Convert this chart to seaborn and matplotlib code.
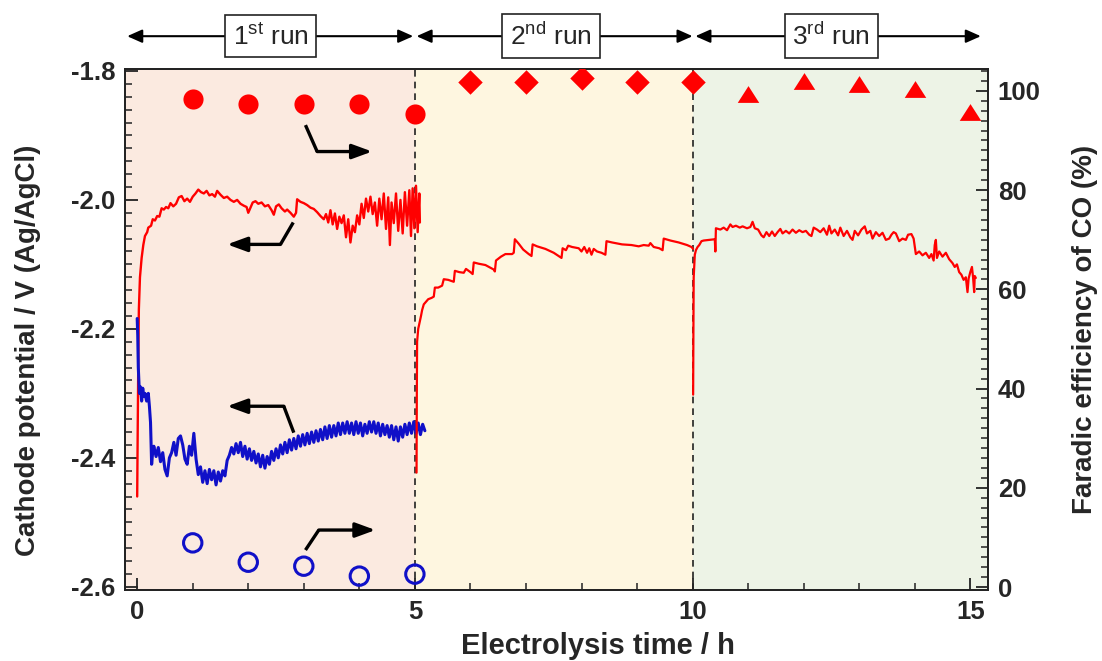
import numpy as np
import pandas as pd
import seaborn as sns
import matplotlib.pyplot as plt
from matplotlib.ticker import MultipleLocator, FormatStrFormatter

# --- data ---
# cathode potential traces (time in h, potential in V vs Ag/AgCl)
run1_red_t = [0.00, 0.01, 0.02, 0.03, 0.05, 0.08, 0.11, 0.14, 0.18, 0.20, 0.25, 0.28, 0.32, 0.36, 0.40,
              0.44, 0.48, 0.52, 0.56, 0.60, 0.65, 0.70, 0.75, 0.80, 0.85, 0.90, 0.95, 1.00, 1.05, 1.10,
              1.15, 1.20, 1.25, 1.30, 1.35, 1.40, 1.44, 1.50, 1.56, 1.62, 1.68, 1.74, 1.80, 1.86, 1.92,
              1.97, 2.00, 2.04, 2.08, 2.13, 2.18, 2.24, 2.30, 2.36, 2.42, 2.46, 2.50, 2.55, 2.60, 2.66,
              2.70, 2.76, 2.82, 2.86, 2.88, 2.94, 3.00, 3.06, 3.12, 3.18, 3.24, 3.30, 3.36, 3.40, 3.44,
              3.48, 3.52, 3.56, 3.60, 3.64, 3.68, 3.72, 3.76, 3.80, 3.84, 3.88, 3.92, 3.96, 4.00, 4.04,
              4.08, 4.12, 4.16, 4.20, 4.24, 4.28, 4.32, 4.36, 4.40, 4.44, 4.48, 4.52, 4.55, 4.58, 4.62,
              4.66, 4.70, 4.74, 4.78, 4.82, 4.86, 4.90, 4.93, 4.96, 4.99, 5.02, 5.05, 5.08, 5.09]
run1_red_v = [-2.460, -2.350, -2.250, -2.170, -2.120, -2.090, -2.070, -2.056, -2.050, -2.043, -2.040, -2.030,
              -2.032, -2.025, -2.026, -2.013, -2.015, -2.011, -2.013, -2.005, -2.010, -2.006, -1.996, -1.994,
              -2.002, -1.998, -2.003, -1.995, -1.990, -1.984, -1.988, -1.990, -1.986, -1.993, -1.991, -1.995,
              -1.986, -1.992, -1.997, -1.995, -2.000, -2.003, -2.000, -2.006, -2.009, -2.011, -2.020, -2.012,
              -2.004, -2.002, -2.006, -2.004, -2.010, -2.008, -2.016, -2.023, -2.010, -2.007, -2.013, -2.018,
              -2.015, -2.020, -2.026, -2.020, -1.999, -2.003, -2.005, -2.008, -2.012, -2.014, -2.019, -2.025,
              -2.030, -2.022, -2.035, -2.016, -2.038, -2.021, -2.045, -2.026, -2.036, -2.024, -2.058, -2.030,
              -2.066, -2.040, -2.050, -2.024, -2.038, -2.006, -2.028, -1.998, -2.018, -1.995, -2.022, -2.004,
              -2.040, -1.998, -2.030, -1.990, -2.045, -1.996, -2.070, -2.004, -2.036, -1.990, -2.048, -2.000,
              -2.052, -1.988, -2.040, -1.985, -2.056, -1.982, -2.044, -1.978, -2.050, -1.990, -2.035]

run1_blue_t = [0.00, 0.01, 0.02, 0.04, 0.06, 0.08, 0.10, 0.12, 0.14, 0.17, 0.20, 0.22, 0.24, 0.26, 0.28,
               0.30, 0.34, 0.38, 0.42, 0.46, 0.50, 0.54, 0.58, 0.62, 0.66,
               0.70, 0.74, 0.78, 0.82, 0.86, 0.90, 0.94, 0.98, 1.02, 1.06,
               1.10, 1.14, 1.18, 1.22, 1.26, 1.30, 1.34, 1.38, 1.42, 1.46,
               1.50, 1.54, 1.58, 1.62, 1.66, 1.70, 1.74, 1.78, 1.82, 1.86,
               1.90, 1.94, 1.98, 2.02, 2.06, 2.10, 2.14, 2.18, 2.22, 2.26,
               2.30, 2.34, 2.38, 2.42, 2.46, 2.50, 2.54, 2.58, 2.62, 2.66,
               2.70, 2.74, 2.78, 2.82, 2.86, 2.90, 2.94, 2.98, 3.02, 3.06,
               3.10, 3.14, 3.18, 3.22, 3.26, 3.30, 3.34, 3.38, 3.42, 3.46,
               3.50, 3.54, 3.58, 3.62, 3.66, 3.70, 3.74, 3.78, 3.82, 3.86,
               3.90, 3.94, 3.98, 4.02, 4.06, 4.10, 4.14, 4.18, 4.22, 4.26,
               4.30, 4.34, 4.38, 4.42, 4.46, 4.50, 4.54, 4.58, 4.62, 4.66,
               4.70, 4.74, 4.78, 4.82, 4.86, 4.90, 4.94, 4.98, 5.02, 5.06,
               5.10, 5.14, 5.18]
run1_blue_v = [-2.184, -2.210, -2.260, -2.300, -2.290, -2.312, -2.292, -2.305, -2.300, -2.312, -2.300, -2.320,
               -2.345, -2.410, -2.390,
               -2.382, -2.398, -2.384, -2.406, -2.392, -2.418, -2.428, -2.400, -2.392, -2.376,
               -2.396, -2.370, -2.366, -2.380, -2.402, -2.410, -2.382, -2.396, -2.362, -2.402,
               -2.426, -2.414, -2.438, -2.420, -2.440, -2.418, -2.434, -2.420, -2.442, -2.422,
               -2.436, -2.420, -2.428, -2.404, -2.396, -2.384, -2.394, -2.378, -2.392, -2.376,
               -2.398, -2.382, -2.402, -2.386, -2.404, -2.390, -2.408, -2.394, -2.414, -2.396,
               -2.416, -2.398, -2.410, -2.390, -2.404, -2.386, -2.400, -2.380, -2.394, -2.376,
               -2.392, -2.372, -2.388, -2.370, -2.386, -2.366, -2.382, -2.364, -2.380, -2.362,
               -2.378, -2.360, -2.376, -2.358, -2.374, -2.356, -2.372, -2.352, -2.370, -2.350,
               -2.368, -2.350, -2.366, -2.346, -2.364, -2.346, -2.362, -2.344, -2.362, -2.346,
               -2.364, -2.344, -2.362, -2.346, -2.366, -2.348, -2.362, -2.344, -2.360, -2.344,
               -2.362, -2.346, -2.366, -2.348, -2.364, -2.350, -2.368, -2.350, -2.372, -2.352,
               -2.374, -2.352, -2.368, -2.348, -2.364, -2.346, -2.362, -2.344, -2.362, -2.346,
               -2.364, -2.348, -2.358]

run2_t = [5.030, 5.035, 5.04, 5.06, 5.08, 5.11, 5.13, 5.16, 5.20, 5.24, 5.30, 5.34, 5.36, 5.42, 5.49, 5.52,
          5.60, 5.70, 5.72, 5.80, 5.88, 5.92, 6.00, 6.04, 6.06, 6.15, 6.27, 6.42, 6.44, 6.46, 6.55, 6.63,
          6.75, 6.78, 6.80, 6.87, 6.95, 7.05, 7.10, 7.12, 7.20, 7.35, 7.50, 7.64, 7.66, 7.72, 7.76, 7.83,
          7.95, 8.00, 8.05, 8.10, 8.14, 8.18, 8.22, 8.28, 8.36, 8.43, 8.45, 8.55, 8.73, 8.90, 9.03, 9.12,
          9.21, 9.24, 9.30, 9.40, 9.46, 9.48, 9.60, 9.75, 9.90, 9.98, 10.01]
run2_v = [-2.423, -2.300, -2.220, -2.200, -2.192, -2.180, -2.171, -2.162, -2.158, -2.154, -2.152, -2.150,
          -2.136, -2.136, -2.133, -2.123, -2.124, -2.127, -2.110, -2.112, -2.113, -2.107, -2.112, -2.115,
          -2.097, -2.099, -2.101, -2.108, -2.111, -2.094, -2.088, -2.084, -2.084, -2.082, -2.061, -2.068,
          -2.077, -2.084, -2.087, -2.069, -2.072, -2.076, -2.082, -2.090, -2.075, -2.078, -2.071, -2.073,
          -2.075, -2.080, -2.073, -2.082, -2.075, -2.085, -2.076, -2.080, -2.082, -2.085, -2.064, -2.066,
          -2.069, -2.070, -2.072, -2.070, -2.071, -2.067, -2.073, -2.075, -2.078, -2.060, -2.063, -2.066,
          -2.070, -2.073, -2.076]

run3_t = [10.010, 10.015, 10.02, 10.04, 10.06, 10.09, 10.12, 10.16, 10.20, 10.30, 10.40, 10.41, 10.42,
          10.50, 10.56, 10.62, 10.68, 10.72, 10.78, 10.85, 10.90, 10.98, 11.04, 11.08, 11.12, 11.18, 11.24,
          11.28, 11.33, 11.38, 11.43, 11.48, 11.53, 11.58, 11.62, 11.68, 11.74, 11.80, 11.86, 11.92, 11.98,
          12.04, 12.10, 12.14, 12.18, 12.24, 12.30, 12.36, 12.42, 12.46, 12.50, 12.56, 12.62, 12.66, 12.72,
          12.78, 12.84, 12.88, 12.92, 12.98, 13.04, 13.10, 13.14, 13.20, 13.24, 13.30, 13.36, 13.42, 13.48,
          13.54, 13.58, 13.62, 13.66, 13.72, 13.78, 13.84, 13.88, 13.94, 13.98, 14.02, 14.08, 14.14, 14.20,
          14.26, 14.30, 14.34, 14.36, 14.38, 14.40, 14.44, 14.50, 14.56, 14.62, 14.68, 14.72, 14.76, 14.80,
          14.84, 14.88, 14.92, 14.95, 14.97, 15.00, 15.03, 15.05, 15.07, 15.08, 15.10]
run3_v = [-2.302, -2.200, -2.120, -2.085, -2.078, -2.073, -2.070, -2.064, -2.063, -2.062, -2.061, -2.080,
          -2.044, -2.046, -2.043, -2.047, -2.038, -2.042, -2.040, -2.043, -2.041, -2.044, -2.042, -2.034,
          -2.044, -2.046, -2.055, -2.058, -2.050, -2.056, -2.049, -2.056, -2.050, -2.045, -2.052, -2.048,
          -2.052, -2.046, -2.051, -2.047, -2.050, -2.048, -2.054, -2.056, -2.043, -2.046, -2.050, -2.044,
          -2.054, -2.040, -2.052, -2.046, -2.055, -2.043, -2.056, -2.048, -2.058, -2.062, -2.048, -2.055,
          -2.046, -2.041, -2.052, -2.048, -2.060, -2.050, -2.056, -2.051, -2.062, -2.060, -2.054, -2.050,
          -2.052, -2.064, -2.060, -2.062, -2.054, -2.053, -2.060, -2.084, -2.080, -2.086, -2.082, -2.090,
          -2.084, -2.094, -2.070, -2.062, -2.090, -2.080, -2.088, -2.082, -2.092, -2.098, -2.104, -2.100,
          -2.112, -2.116, -2.124, -2.120, -2.143, -2.122, -2.112, -2.104, -2.120, -2.143, -2.118, -2.121]

# Faradaic efficiency of CO (%), one point per hour
fe_run1_x = [1, 2, 3, 4, 5]
fe_run1_red = [98.4, 97.4, 97.4, 97.4, 95.4]
fe_run1_blue = [8.9, 5.0, 4.2, 2.2, 2.6]
fe_run2_x = [6, 7, 8, 9, 10]
fe_run2 = [101.8, 101.8, 102.6, 101.8, 101.8]
fe_run3_x = [11, 12, 13, 14, 15]
fe_run3 = [99.4, 102.0, 101.3, 100.4, 95.8]

run_labels = [r"1$^{\mathrm{st}}$ run", r"2$^{\mathrm{nd}}$ run", r"3$^{\mathrm{rd}}$ run"]

# --- style ---
sns.set_theme(style="ticks")
plt.rcParams['font.family'] = ['Liberation Sans', 'DejaVu Sans']
plt.rcParams['axes.unicode_minus'] = False
plt.rcParams['mathtext.fontset'] = 'custom'
plt.rcParams['mathtext.rm'] = 'Liberation Sans'

RED = '#ff0000'
BLUE = '#1010c8'

fig = plt.figure(figsize=(11.02, 6.61), dpi=100)
ax = fig.add_axes([0.1134, 0.1074, 0.7832, 0.7882])
ax2 = ax.twinx()

xmin, xmax = -0.22, 15.32
ax.axvspan(xmin, 5, color='#fbeae0', lw=0, zorder=0)
ax.axvspan(5, 10, color='#fef6e0', lw=0, zorder=0)
ax.axvspan(10, xmax, color='#edf3e6', lw=0, zorder=0)
for xv in (5, 10):
    ax.axvline(xv, color='#222222', lw=1.2, ls=(0, (4, 3)), zorder=1)

# potential traces
for t, v, c, w in [(run1_red_t, run1_red_v, RED, 1.7), (run1_blue_t, run1_blue_v, BLUE, 2.2),
                   (run2_t, run2_v, RED, 1.6), (run3_t, run3_v, RED, 1.6)]:
    sns.lineplot(x=t, y=v, ax=ax, color=c, lw=w, sort=False, estimator=None, zorder=3)

# FE markers on right axis
tri = [(-1, -0.78), (1, -0.78), (0, 0.78)]
sns.scatterplot(x=fe_run1_x, y=fe_run1_red, ax=ax2, marker='o', s=210, color=RED, edgecolor=RED, lw=0, zorder=4)
sns.scatterplot(x=fe_run1_x, y=fe_run1_blue, ax=ax2, marker='o', s=175, facecolor='none',
                edgecolor=BLUE, linewidth=2.2, zorder=4)
sns.scatterplot(x=fe_run2_x, y=fe_run2, ax=ax2, marker='D', s=155, color=RED, edgecolor=RED, lw=0, zorder=4)
sns.scatterplot(x=fe_run3_x, y=fe_run3, ax=ax2, marker=tri, s=240, color=RED, edgecolor=RED, lw=0, zorder=4)

# axes limits / ticks
ax.set_xlim(xmin, xmax)
ax.set_ylim(-2.605, -1.797)
ax2.set_ylim(-0.6, 104.4)
ax.xaxis.set_major_locator(MultipleLocator(5))
ax.xaxis.set_minor_locator(MultipleLocator(1))
ax.yaxis.set_major_locator(MultipleLocator(0.2))
ax.yaxis.set_minor_locator(MultipleLocator(0.02))
ax.yaxis.set_major_formatter(FormatStrFormatter('%.1f'))
ax2.yaxis.set_major_locator(MultipleLocator(20))
ax2.yaxis.set_minor_locator(MultipleLocator(2))

for a in (ax, ax2):
    a.tick_params(which='major', direction='in', length=9, width=1.3, color='#222222',
                  labelsize=18.5, pad=7)
    a.tick_params(which='minor', direction='in', length=5, width=1.1, color='#222222')
    for s in a.spines.values():
        s.set_linewidth(1.3)
        s.set_color('#222222')
for lab in ax.get_xticklabels() + ax.get_yticklabels() + ax2.get_yticklabels():
    lab.set_fontweight('bold')

ax.set_xlabel('Electrolysis time / h', fontsize=21, fontweight='bold')
ax.set_ylabel('Cathode potential / V (Ag/AgCl)', fontsize=20, fontweight='bold')
ax2.set_ylabel('Faradic efficiency of CO (%)', fontsize=20, fontweight='bold')
ax.xaxis.set_label_coords(0.548, -0.08)
ax.yaxis.set_label_coords(-0.097, 0.46)
ax2.yaxis.set_label_coords(1.097, 0.5)

# bent arrows pointing to the relevant axis
arrow_kw = dict(arrowstyle='-|>,head_length=0.6,head_width=0.22', color='black', lw=2.4,
                shrinkA=0, shrinkB=0, mutation_scale=20)
bent = [((3.03, -1.884), (3.24, -1.925), (4.23, -1.925)),
        ((2.81, -2.035), (2.58, -2.069), (1.62, -2.069)),
        ((2.82, -2.361), (2.64, -2.320), (1.62, -2.320)),
        ((3.03, -2.543), (3.27, -2.512), (4.29, -2.512))]
for p0, p1, p2 in bent:
    ax.plot([p0[0], p1[0]], [p0[1], p1[1]], color='black', lw=2.4, solid_capstyle='butt', zorder=5)
    ax.annotate('', xy=p2, xytext=p1, arrowprops=arrow_kw, zorder=5)

# run brackets above the plot
run_spans = [(-0.18, 4.97), (5.03, 10.0), (10.05, 15.19)]
run_centers = [2.4, 7.45, 12.5]
top_kw = dict(arrowstyle='<|-|>,head_length=0.45,head_width=0.2', color='black', lw=1.5,
              shrinkA=0, shrinkB=0, mutation_scale=20)
for (x0, x1), xc, lab in zip(run_spans, run_centers, run_labels):
    ax.annotate('', xy=(x1, 1.063), xytext=(x0, 1.063), xycoords=('data', 'axes fraction'),
                textcoords=('data', 'axes fraction'), arrowprops=top_kw, annotation_clip=False)
    ax.text(xc, 1.063, lab, transform=ax.get_xaxis_transform(), ha='center', va='center',
            fontsize=19, zorder=6,
            bbox=dict(boxstyle='square,pad=0.3', fc='white', ec='#222222', lw=1.2))

fig.savefig('out.png', dpi=100)
